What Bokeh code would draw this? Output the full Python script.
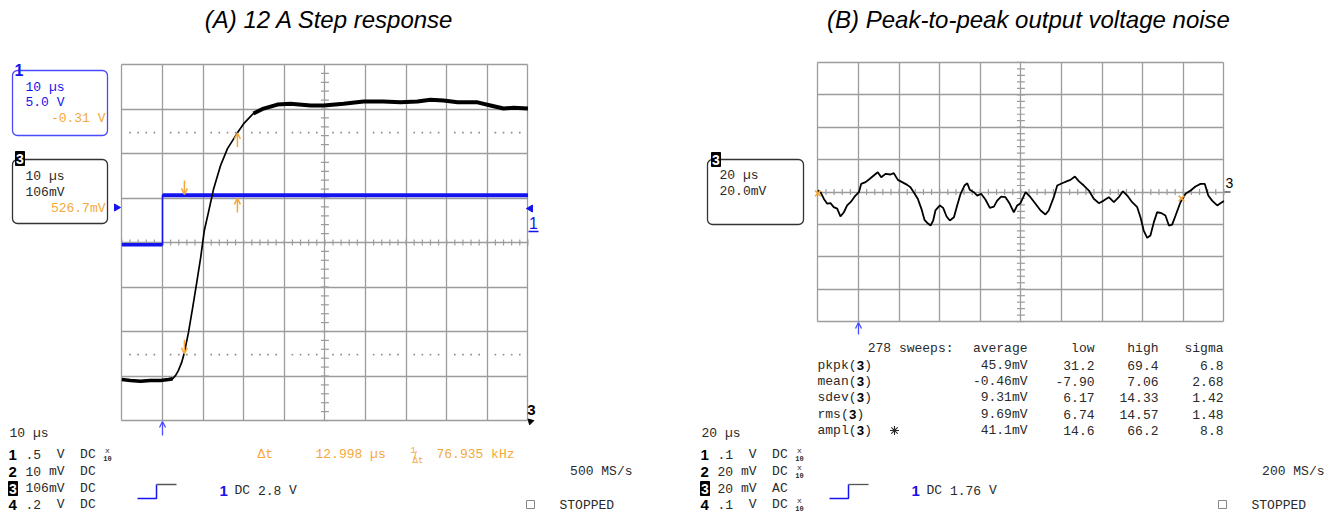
import numpy as np
from bokeh.plotting import figure
from bokeh.models import Range1d, Grid, FixedTicker, Label, BoxAnnotation, Arrow, OpenHead
from bokeh.layouts import row
from bokeh.embed import file_html
from bokeh.resources import INLINE

# ---------------- data ----------------
# Panel A: 12 A step response, 10 us/div, trigger at t = 0, vertical in screen divisions
a_ch3_t = [-10.0, -7.9, -5.4, -3.0, -0.5, 1.5, 2.5, 3.2, 3.9, 4.7, 5.4, 6.4, 7.4, 8.4, 9.4,
           10.3, 11.3, 12.6, 14.3, 16.0, 18.5, 20.0, 22.4, 24.9, 28.3, 31.5, 36.5, 39.7,
           44.6, 49.5, 54.4, 58.6, 62.8, 66.0, 69.2, 72.7, 77.6, 80.8, 84.0, 86.5, 90.0]
a_ch3_div = [-3.08, -3.10, -3.12, -3.10, -3.10, -3.08, -3.06, -2.99, -2.88, -2.70, -2.47,
             -2.02, -1.48, -0.92, -0.34, 0.27, 0.67, 1.21, 1.73, 2.11, 2.47, 2.67, 2.90,
             3.01, 3.10, 3.12, 3.08, 3.08, 3.12, 3.17, 3.17, 3.15, 3.17, 3.21, 3.19, 3.15,
             3.15, 3.08, 3.01, 3.03, 3.01]
a_ch1_t = [-10.0, 0.0, 0.0, 90.0]
a_ch1_div = [-0.05, -0.05, 1.06, 1.06]
a_cursor_t = [5.4, 18.45]
a_cursor_ch3 = [-2.50, 2.46]
a_cursor_ch1 = [1.08, 0.99]
a_levels = [2.47, -2.52]

# Panel B: peak-to-peak output voltage noise, 20 us/div, 20 mV/div
b_ch3_t = [-20.0, -18.7, -17.1, -15.4, -13.8, -12.2, -10.5, -8.9, -7.2, -5.6, -3.9, -1.5, 0.2,
           1.3, 3.5, 5.6, 7.5, 9.5, 11.2, 13.3, 15.8, 17.4, 19.4, 21.5, 24.0, 25.6, 27.2,
           29.2, 31.0, 32.5, 34.1, 35.5, 36.8, 37.9, 40.1, 41.7, 43.4, 45.0, 47.0, 48.6,
           50.3, 52.2, 53.6, 54.8, 56.8, 58.5, 60.4, 62.6, 64.7, 66.7, 68.3, 70.3, 72.4,
           74.5, 76.5, 78.2, 79.8, 82.3, 84.7, 87.2, 89.7, 92.1, 93.7, 96.2, 97.9, 100.3,
           102.8, 104.4, 106.6, 108.5, 111.0, 113.5, 115.9, 118.4, 120.8, 123.3, 125.8,
           128.2, 130.2, 132.4, 134.8, 137.3, 138.9, 140.5, 142.2, 143.8, 145.5, 147.1,
           149.3, 151.2, 152.9, 154.5, 156.2, 158.6, 161.1, 163.6, 166.0, 168.5, 170.6,
           172.3, 174.2, 176.7, 178.3, 180.0]
b_ch3_mv = [0.9, -0.1, -4.1, -7.2, -6.9, -9.3, -10.3, -15.1, -12.5, -8.3, -6.3, -2.2, -0.1,
            5.0, 6.1, 8.2, 10.2, 12.2, 9.1, 11.2, 10.8, 11.6, 7.5, 6.1, 4.4, 3.0, -0.1,
            -4.2, -10.4, -17.2, -19.3, -20.7, -17.6, -11.4, -8.3, -9.8, -15.1, -17.6, -15.6,
            -8.3, -1.1, 4.0, 5.4, 1.4, -0.1, -2.2, -1.1, -4.8, -9.8, -9.0, -5.3, -2.8, -3.2,
            -7.3, -12.5, -8.3, -6.9, -0.1, -3.2, -7.3, -11.4, -13.9, -11.4, -3.2, 4.0, 5.4,
            6.7, 7.5, 9.6, 6.7, 4.0, 0.9, -4.2, -6.9, -5.3, -3.2, -6.3, -3.2, 0.5, -2.2,
            -6.3, -9.4, -15.6, -23.8, -28.3, -26.9, -18.6, -12.5, -13.1, -14.5, -20.7,
            -20.1, -14.5, -6.3, -1.1, 0.9, 3.4, 5.0, 5.0, -2.2, -5.3, -8.3, -6.9, -5.6]
b_cursor_t = [-20.0, 159.1]
b_cursor_mv = [-0.9, -4.0]

stat_names = ["pkpk", "mean", "sdev", "rms", "ampl"]
stat_average = ["45.9mV", "-0.46mV", "9.31mV", "9.69mV", "41.1mV"]
stat_low = ["31.2", "-7.90", "6.17", "6.74", "14.6"]
stat_high = ["69.4", "7.06", "14.33", "14.57", "66.2"]
stat_sigma = ["6.8", "2.68", "1.42", "1.48", "8.8"]

a_rows = [".5  V  DC", "10 mV  DC", "106mV  DC", ".2  V  DC"]
b_rows = [".1  V  DC", "20 mV  DC", "20 mV  AC", ".1  V  DC"]
a_x10 = [True, False, False, False]
b_x10 = [True, True, False, True]

# ---------------- style ----------------
ORANGE = "#F5A83A"
BLUE = "#1414F0"
BOXBLUE = "#4a4aff"
GRID = "#9c9c9c"
TXT = "#2a2a2a"
MONO = "Liberation Mono"
SANS = "Liberation Sans"
CW = 7.8  # mono char advance at 13px


class Map:
    def __init__(self, px0, tpp, py0, vpp):
        self.px0, self.tpp, self.py0, self.vpp = px0, tpp, py0, vpp

    def x(self, px):
        return (px - self.px0) * self.tpp

    def y(self, py):
        return (self.py0 - py) * self.vpp


A = Map(162, 10 / 40.6, 242, 1 / 44.5)
B = Map(858, 20 / 40.6, 191.5, 20 / 32.4)


def make_fig(M, x0, x1):
    p = figure(width=x1 - x0, height=514, x_range=Range1d(M.x(x0), M.x(x1)),
               y_range=Range1d(M.y(514), M.y(0)), output_backend="svg",
               toolbar_location=None, x_axis_type=None, y_axis_type=None,
               min_border=0, outline_line_color=None)
    p.background_fill_color = "white"
    p.border_fill_color = "white"
    return p


def T(p, M, px, py, text, color=TXT, size=13, font=MONO, align="left", style="normal"):
    p.add_layout(Label(x=M.x(px), y=M.y(py), text=text, text_color=color,
                       text_font_size=f"{size}px", text_font=font, text_align=align,
                       text_baseline="middle", text_font_style=style))


def mono(p, M, px, py, text, color=TXT):
    # monospaced line: place each run at its character column (SVG collapses spaces)
    i = 0
    for run in text.split(" "):
        if run:
            T(p, M, px + i * CW, py, run, color=color)
        i += len(run) + 1


def box(p, M, l, r, t, b, color):
    p.add_layout(BoxAnnotation(left=M.x(l), right=M.x(r), top=M.y(t), bottom=M.y(b),
                               fill_alpha=0, line_color=color, line_alpha=1.0,
                               line_width=1.3, border_radius=5))


def scope_grid(p, xt, xb, yt, yb, tstep, vstep, tc):
    p.add_layout(Grid(dimension=0, ticker=FixedTicker(ticks=xt), cross_bounds=yb,
                      grid_line_color=GRID, grid_line_width=1.3))
    p.add_layout(Grid(dimension=1, ticker=FixedTicker(ticks=yt), cross_bounds=xb,
                      grid_line_color=GRID, grid_line_width=1.3))
    mt = np.arange(xb[0], xb[1] + 1e-9, tstep)
    p.scatter(mt, np.zeros_like(mt), marker="dash", angle=np.pi / 2, size=6,
              line_color=GRID, line_width=1.2)
    mv = np.arange(yb[0], yb[1] + 1e-9, vstep)
    p.scatter(np.full_like(mv, tc), mv, marker="dash", size=8, line_color=GRID, line_width=1.2)


def inv3(p, M, px, py):
    # white "3" on a black tag
    p.add_layout(BoxAnnotation(left=M.x(px), right=M.x(px + 9), top=M.y(py - 7),
                               bottom=M.y(py + 7), fill_color="black", fill_alpha=1.0,
                               line_color="black", line_alpha=1.0, line_width=1))
    T(p, M, px + 4.5, py + 0.5, "3", color="white", size=14, font=SANS, style="bold",
      align="center")


def bottom_block(p, M, base, tdiv, rows, x10, trig_text, rate):
    T(p, M, base + 1, 433, tdiv)
    ys = [454, 471, 488, 504]
    for i, (txt, y) in enumerate(zip(rows, ys)):
        if i == 2:
            inv3(p, M, base, y)
        else:
            T(p, M, base + 0, y, str(i + 1), color="black", size=15, font=SANS, style="bold")
        mono(p, M, base + 17, y, txt)
        if x10[i]:
            T(p, M, base + 99, y - 4, "x", size=8, align="center")
            T(p, M, base + 99, y + 4, "10", size=7, style="bold", align="center")
    # trigger symbol
    tx0 = base + 129
    p.line([M.x(tx0), M.x(tx0 + 19), M.x(tx0 + 19)], [M.y(498), M.y(498), M.y(484)],
           line_color=BLUE, line_width=1.5)
    p.line([M.x(tx0 + 19), M.x(tx0 + 39)], [M.y(484), M.y(484)], line_color="#555555", line_width=1.3)
    T(p, M, base + 211, 490, "1", color=BLUE, size=15, font=SANS, style="bold")
    mono(p, M, base + 226, 490, trig_text)
    T(p, M, base + 624, 471, rate, align="right")
    p.scatter([M.x(base + 522)], [M.y(504)], marker="square", size=8, fill_color=None,
              line_color="#888888", line_width=1)
    T(p, M, base + 551, 505, "STOPPED")


# ================= Panel A =================
pA = make_fig(A, 0, 670)
scope_grid(pA, [-10 + 10 * i for i in range(11)], (-10, 90), list(range(-4, 5)), (-4, 4),
           2.0, 0.2, 40)
dots_t = [t for t in np.arange(-10, 90, 2.0) if abs(t % 10) > 1e-6]
for lv in a_levels:
    pA.scatter(dots_t, [lv] * len(dots_t), marker="square", size=1.6, line_color=None,
               fill_color="#8a8a8a")

# channel 1 (blue, gate step)
pA.line(a_ch1_t, a_ch1_div, line_color=BLUE, line_width=1.6)
pA.line(a_ch1_t[:2], a_ch1_div[:2], line_color=BLUE, line_width=3.5)
pA.line(a_ch1_t[2:], a_ch1_div[2:], line_color=BLUE, line_width=4)
# channel 3 (black, output voltage)
pA.line(a_ch3_t, a_ch3_div, line_color="black", line_width=1.7)
pA.line(a_ch3_t[:7], a_ch3_div[:7], line_color="black", line_width=3.5)
pA.line(a_ch3_t[22:], a_ch3_div[22:], line_color="black", line_width=4)

# cursors
hA = 14 * A.vpp
for t, lv, d in [(a_cursor_t[0], a_cursor_ch1[0], -1), (a_cursor_t[1], a_cursor_ch1[1], 1),
                 (a_cursor_t[0], a_cursor_ch3[0], -1), (a_cursor_t[1], a_cursor_ch3[1], 1)]:
    pA.add_layout(Arrow(x_start=t, y_start=lv - d * hA, x_end=t, y_end=lv,
                        line_color=ORANGE, line_width=1.5,
                        end=OpenHead(size=6, line_color=ORANGE, line_width=1.5)))

# trigger arrow
pA.add_layout(Arrow(x_start=0, y_start=A.y(435), x_end=0, y_end=A.y(421), line_color=BOXBLUE,
                    line_width=1.3, end=OpenHead(size=6, line_color=BOXBLUE, line_width=1.3)))
# level markers
pA.scatter([A.x(116)], [A.y(207)], marker="triangle", angle=-np.pi / 2, size=7,
           fill_color=BLUE, line_color=BLUE)
pA.scatter([A.x(530)], [A.y(208)], marker="triangle", angle=np.pi / 2, size=7,
           fill_color=BLUE, line_color=BLUE)
T(pA, A, 533, 222, "1", color=BLUE, size=16, font=SANS, align="center")
pA.line([A.x(528), A.x(538)], [A.y(231), A.y(231)], line_color=BLUE, line_width=1.3)
T(pA, A, 531, 409, "3", color="black", size=15, font=SANS, style="bold", align="center")
pA.scatter([A.x(530)], [A.y(421)], marker="triangle", angle=np.pi / 4, size=6,
           fill_color="black", line_color="black")

# info boxes
box(pA, A, 12, 107, 70, 135, BOXBLUE)
T(pA, A, 14, 69, "1", color=BLUE, size=16, font=SANS, style="bold")
T(pA, A, 25, 87, "10 µs", color=BLUE)
T(pA, A, 25, 102, "5.0 V", color=BLUE)
T(pA, A, 105, 118, "-0.31 V", color=ORANGE, align="right")

box(pA, A, 12, 107, 159, 223, "#333333")
inv3(pA, A, 15, 158)
T(pA, A, 25, 176, "10 µs")
T(pA, A, 25, 192, "106mV")
T(pA, A, 105, 208, "526.7mV", color=ORANGE, align="right")

# measurement line
T(pA, A, 257, 454, "Δt", color=ORANGE)
T(pA, A, 315, 454, "12.998 µs", color=ORANGE)
T(pA, A, 410, 449, "1", color=ORANGE, size=9)
T(pA, A, 413, 455, "/", color=ORANGE, size=12, font=SANS)
T(pA, A, 412, 460, "Δt", color=ORANGE, size=9)
T(pA, A, 436, 454, "76.935 kHz", color=ORANGE)

bottom_block(pA, A, 8, "10 µs", a_rows, a_x10, "DC 2.8 V", "500 MS/s")
T(pA, A, 329, 19, "(A) 12 A Step response", color="black", size=24, font=SANS, style="italic",
  align="center")

# ================= Panel B =================
pB = make_fig(B, 670, 1340)
scope_grid(pB, [-20 + 20 * i for i in range(11)], (-20, 180), [-80 + 20 * i for i in range(9)],
           (-80, 80), 4.0, 4.0, 80)
pB.line(b_ch3_t, b_ch3_mv, line_color="black", line_width=1.8)
pB.scatter(b_cursor_t, b_cursor_mv, marker="x", size=8, line_color=ORANGE, line_width=1.6)

pB.add_layout(Arrow(x_start=0, y_start=B.y(334), x_end=0, y_end=B.y(322), line_color=BOXBLUE,
                    line_width=1.3, end=OpenHead(size=6, line_color=BOXBLUE, line_width=1.3)))
T(pB, B, 1229, 182, "3", color="black", size=14, font=SANS, align="center")
pB.line([B.x(1224), B.x(1230)], [0, 0], line_color="#555555", line_width=1.3)

box(pB, B, 707, 803, 159, 224, "#333333")
inv3(pB, B, 711, 159)
T(pB, B, 719, 175, "20 µs")
T(pB, B, 719, 191, "20.0mV")

# statistics table
T(pB, B, 953, 348, "278 sweeps:", align="right")
T(pB, B, 1027, 348, "average", align="right")
T(pB, B, 1094, 348, "low", align="right")
T(pB, B, 1158, 348, "high", align="right")
T(pB, B, 1223, 348, "sigma", align="right")
row_y = [364.5, 381, 397, 413.5, 430]
for name, av, lo, hi, sg, y in zip(stat_names, stat_average, stat_low, stat_high, stat_sigma, row_y):
    T(pB, B, 817, y, name + "(")
    T(pB, B, 817 + len(name + "(") * CW, y, "3", color="black", style="bold")
    T(pB, B, 817 + len(name + "(3") * CW, y, ")")
    T(pB, B, 1027, y, av, align="right")
    T(pB, B, 1094, y, lo, align="right")
    T(pB, B, 1158, y, hi, align="right")
    T(pB, B, 1223, y, sg, align="right")
pB.scatter([B.x(894)], [B.y(430)], marker="asterisk", size=9, line_color=TXT, line_width=1.1)

bottom_block(pB, B, 700, "20 µs", b_rows, b_x10, "DC 1.76 V", "200 MS/s")
T(pB, B, 1028, 19, "(B) Peak-to-peak output voltage noise", color="black", size=24, font=SANS,
  style="italic", align="center")

layout = row(pA, pB)
open("out.html", "w").write(file_html(layout, INLINE))
